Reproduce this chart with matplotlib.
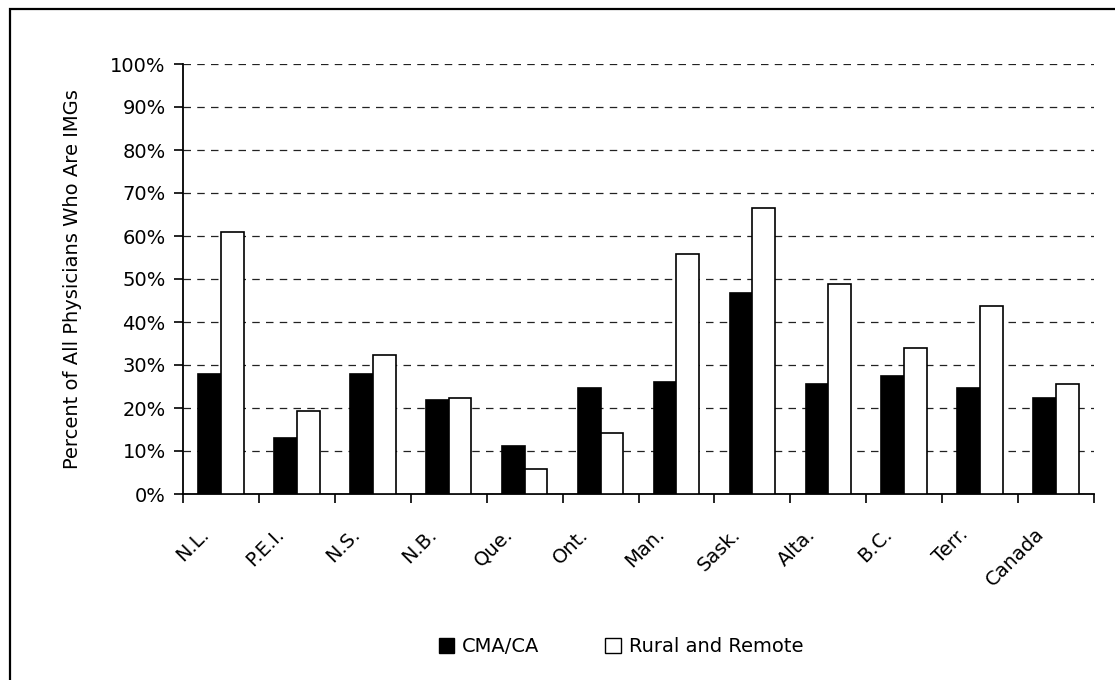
import matplotlib
matplotlib.use("Agg")
import matplotlib.pyplot as plt
from matplotlib.patches import Rectangle, Patch
from matplotlib.transforms import ScaledTranslation
import numpy as np

# Share of physicians who are international medical graduates, by region
regions = ["N.L.", "P.E.I.", "N.S.", "N.B.", "Que.", "Ont.", "Man.",
           "Sask.", "Alta.", "B.C.", "Terr.", "Canada"]
cma_ca = [27.9, 13.0, 27.9, 21.9, 11.2, 24.7, 26.0, 46.7, 25.6, 27.4, 24.7, 22.4]
rural_remote = [61.0, 19.4, 32.4, 22.3, 5.9, 14.3, 55.9, 66.5, 48.9, 33.9, 43.7, 25.5]
y_ticks = list(range(0, 101, 10))
series_names = ["CMA/CA", "Rural and Remote"]

plt.rcParams["font.family"] = ["DejaVu Sans"]
FS = 14

fig = plt.figure(figsize=(11.15, 6.8), dpi=100)
ax = fig.add_axes([183 / 1115, 1 - 494 / 680, (1094 - 183) / 1115, (494 - 64) / 680])

# outer frame of the chart area (right and bottom edges fall outside the canvas)
fig.patches.append(Rectangle((10 / 1115, -0.2), 1.2, 1.2 - 9 / 680,
                             transform=fig.transFigure, fill=False,
                             edgecolor="black", linewidth=1.6, zorder=0))

x = np.arange(len(regions))
w = 0.3
ax.bar(x - w / 2, cma_ca, width=w, color="black", edgecolor="black",
       linewidth=1.2, zorder=3)
ax.bar(x + w / 2, rural_remote, width=w, color="white", edgecolor="black",
       linewidth=1.2, zorder=3)

ax.set_xlim(-0.5, len(regions) - 0.5)
ax.set_ylim(0, 100)
ax.set_yticks(y_ticks)
ax.set_yticklabels([f"{v}%" for v in y_ticks], fontsize=FS)
ax.yaxis.grid(True, linestyle=(0, (6, 5)), color="#222222", linewidth=0.9)
ax.set_axisbelow(True)

ax.set_xticks(x)
ax.set_xticklabels(regions, rotation=45, ha="right", rotation_mode="anchor",
                   fontsize=FS)
ax.set_xticks(np.arange(-0.5, len(regions)), minor=True)
ax.tick_params(axis="x", which="major", length=0, pad=22)
ax.tick_params(axis="x", which="minor", length=6.5, width=1.2, direction="out")
ax.tick_params(axis="y", length=6.5, width=1.2, direction="out", pad=6)

# nudge the slanted category labels left of their group centres
shift = ScaledTranslation(-22 / 100, 0, fig.dpi_scale_trans)
for lab in ax.get_xticklabels():
    lab.set_transform(lab.get_transform() + shift)

for side in ("top", "right"):
    ax.spines[side].set_visible(False)
for side in ("left", "bottom"):
    ax.spines[side].set_linewidth(1.3)

ax.set_ylabel("Percent of All Physicians Who Are IMGs", fontsize=FS, labelpad=20)

handles = [Patch(facecolor="black", edgecolor="black"),
           Patch(facecolor="white", edgecolor="black")]
fig.legend(handles, series_names, loc="center", ncol=2, frameon=False,
           bbox_to_anchor=(621 / 1115, 1 - 647 / 680), fontsize=FS,
           handlelength=0.8, handleheight=0.8, handletextpad=0.4,
           columnspacing=3.4)

fig.savefig("out.png", dpi=100)
